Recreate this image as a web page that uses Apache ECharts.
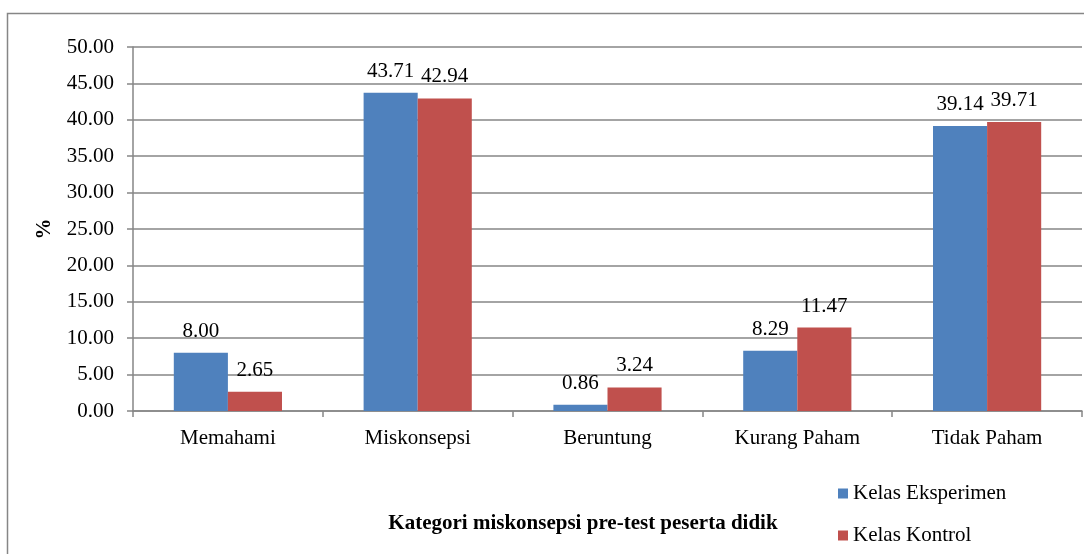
<!DOCTYPE html>
<html>
<head>
<meta charset="utf-8">
<script src="https://cdn.jsdelivr.net/npm/echarts@6/dist/echarts.min.js"></script>
<style>
html,body{margin:0;padding:0;background:#fff;}
#chart{width:1084px;height:554px;}
</style>
</head>
<body>
<div id="chart"></div>
<script>
var categories = ['Memahami', 'Miskonsepsi', 'Beruntung', 'Kurang Paham', 'Tidak Paham'];
var eksperimen = [8.00, 43.71, 0.86, 8.29, 39.14];
var kontrol = [2.65, 42.94, 3.24, 11.47, 39.71];
var seriesNames = ['Kelas Eksperimen', 'Kelas Kontrol'];

var font = '"Liberation Serif", "Times New Roman", serif';
var lineColor = '#868686';

var myChart = echarts.init(document.getElementById('chart'));
var option = {
    animation: false,
    textStyle: {fontFamily: font},
    title: {
        text: 'Kategori miskonsepsi pre-test peserta didik',
        left: 578,
        top: 508,
        textAlign: 'center',
        textStyle: {fontFamily: font, fontSize: 21, fontWeight: 'bold', color: '#000'}
    },
    graphic: [{
        type: 'rect',
        shape: {x: 7.5, y: 13.5, width: 1200, height: 700},
        style: {fill: 'none', stroke: lineColor, lineWidth: 1.5},
        silent: true
    }],
    legend: {
        orient: 'vertical',
        left: 833,
        top: 478,
        itemGap: 21,
        itemWidth: 10,
        itemHeight: 10,
        icon: 'rect',
        textStyle: {fontFamily: font, fontSize: 21, color: '#000'},
        data: seriesNames
    },
    grid: {left: 133, right: 2, top: 47, bottom: 143, containLabel: false},
    xAxis: {
        type: 'category',
        data: categories,
        axisLine: {lineStyle: {color: lineColor, width: 1.5}},
        axisTick: {show: true, length: 6, lineStyle: {color: lineColor, width: 1.5}},
        axisLabel: {color: '#000', fontSize: 21, fontFamily: font, margin: 17}
    },
    yAxis: {
        type: 'value',
        min: 0,
        max: 50,
        interval: 5,
        name: '%',
        nameLocation: 'middle',
        nameGap: 78,
        nameTextStyle: {fontFamily: font, fontSize: 21, fontWeight: 'bold', color: '#000'},
        axisLine: {show: true, lineStyle: {color: lineColor, width: 1.5}},
        axisTick: {show: true, length: 6, lineStyle: {color: lineColor, width: 1.5}},
        splitLine: {lineStyle: {color: lineColor, width: 1.5}},
        axisLabel: {
            color: '#000', fontSize: 21, fontFamily: font, margin: 19,
            formatter: function (v) { return v.toFixed(2); }
        }
    },
    series: [{
        name: seriesNames[0],
        type: 'bar',
        data: eksperimen,
        barGap: '0%',
        barCategoryGap: '43%',
        itemStyle: {color: '#4F81BD'},
        label: {
            show: true, position: 'top', distance: 11, color: '#000', fontSize: 21, fontFamily: font,
            formatter: function (p) { return p.value.toFixed(2); }
        }
    }, {
        name: seriesNames[1],
        type: 'bar',
        data: kontrol,
        barGap: '0%',
        barCategoryGap: '43%',
        itemStyle: {color: '#C0504D'},
        label: {
            show: true, position: 'top', distance: 11, color: '#000', fontSize: 21, fontFamily: font,
            formatter: function (p) { return p.value.toFixed(2); }
        }
    }]
};
myChart.setOption(option, true);
</script>
</body>
</html>
